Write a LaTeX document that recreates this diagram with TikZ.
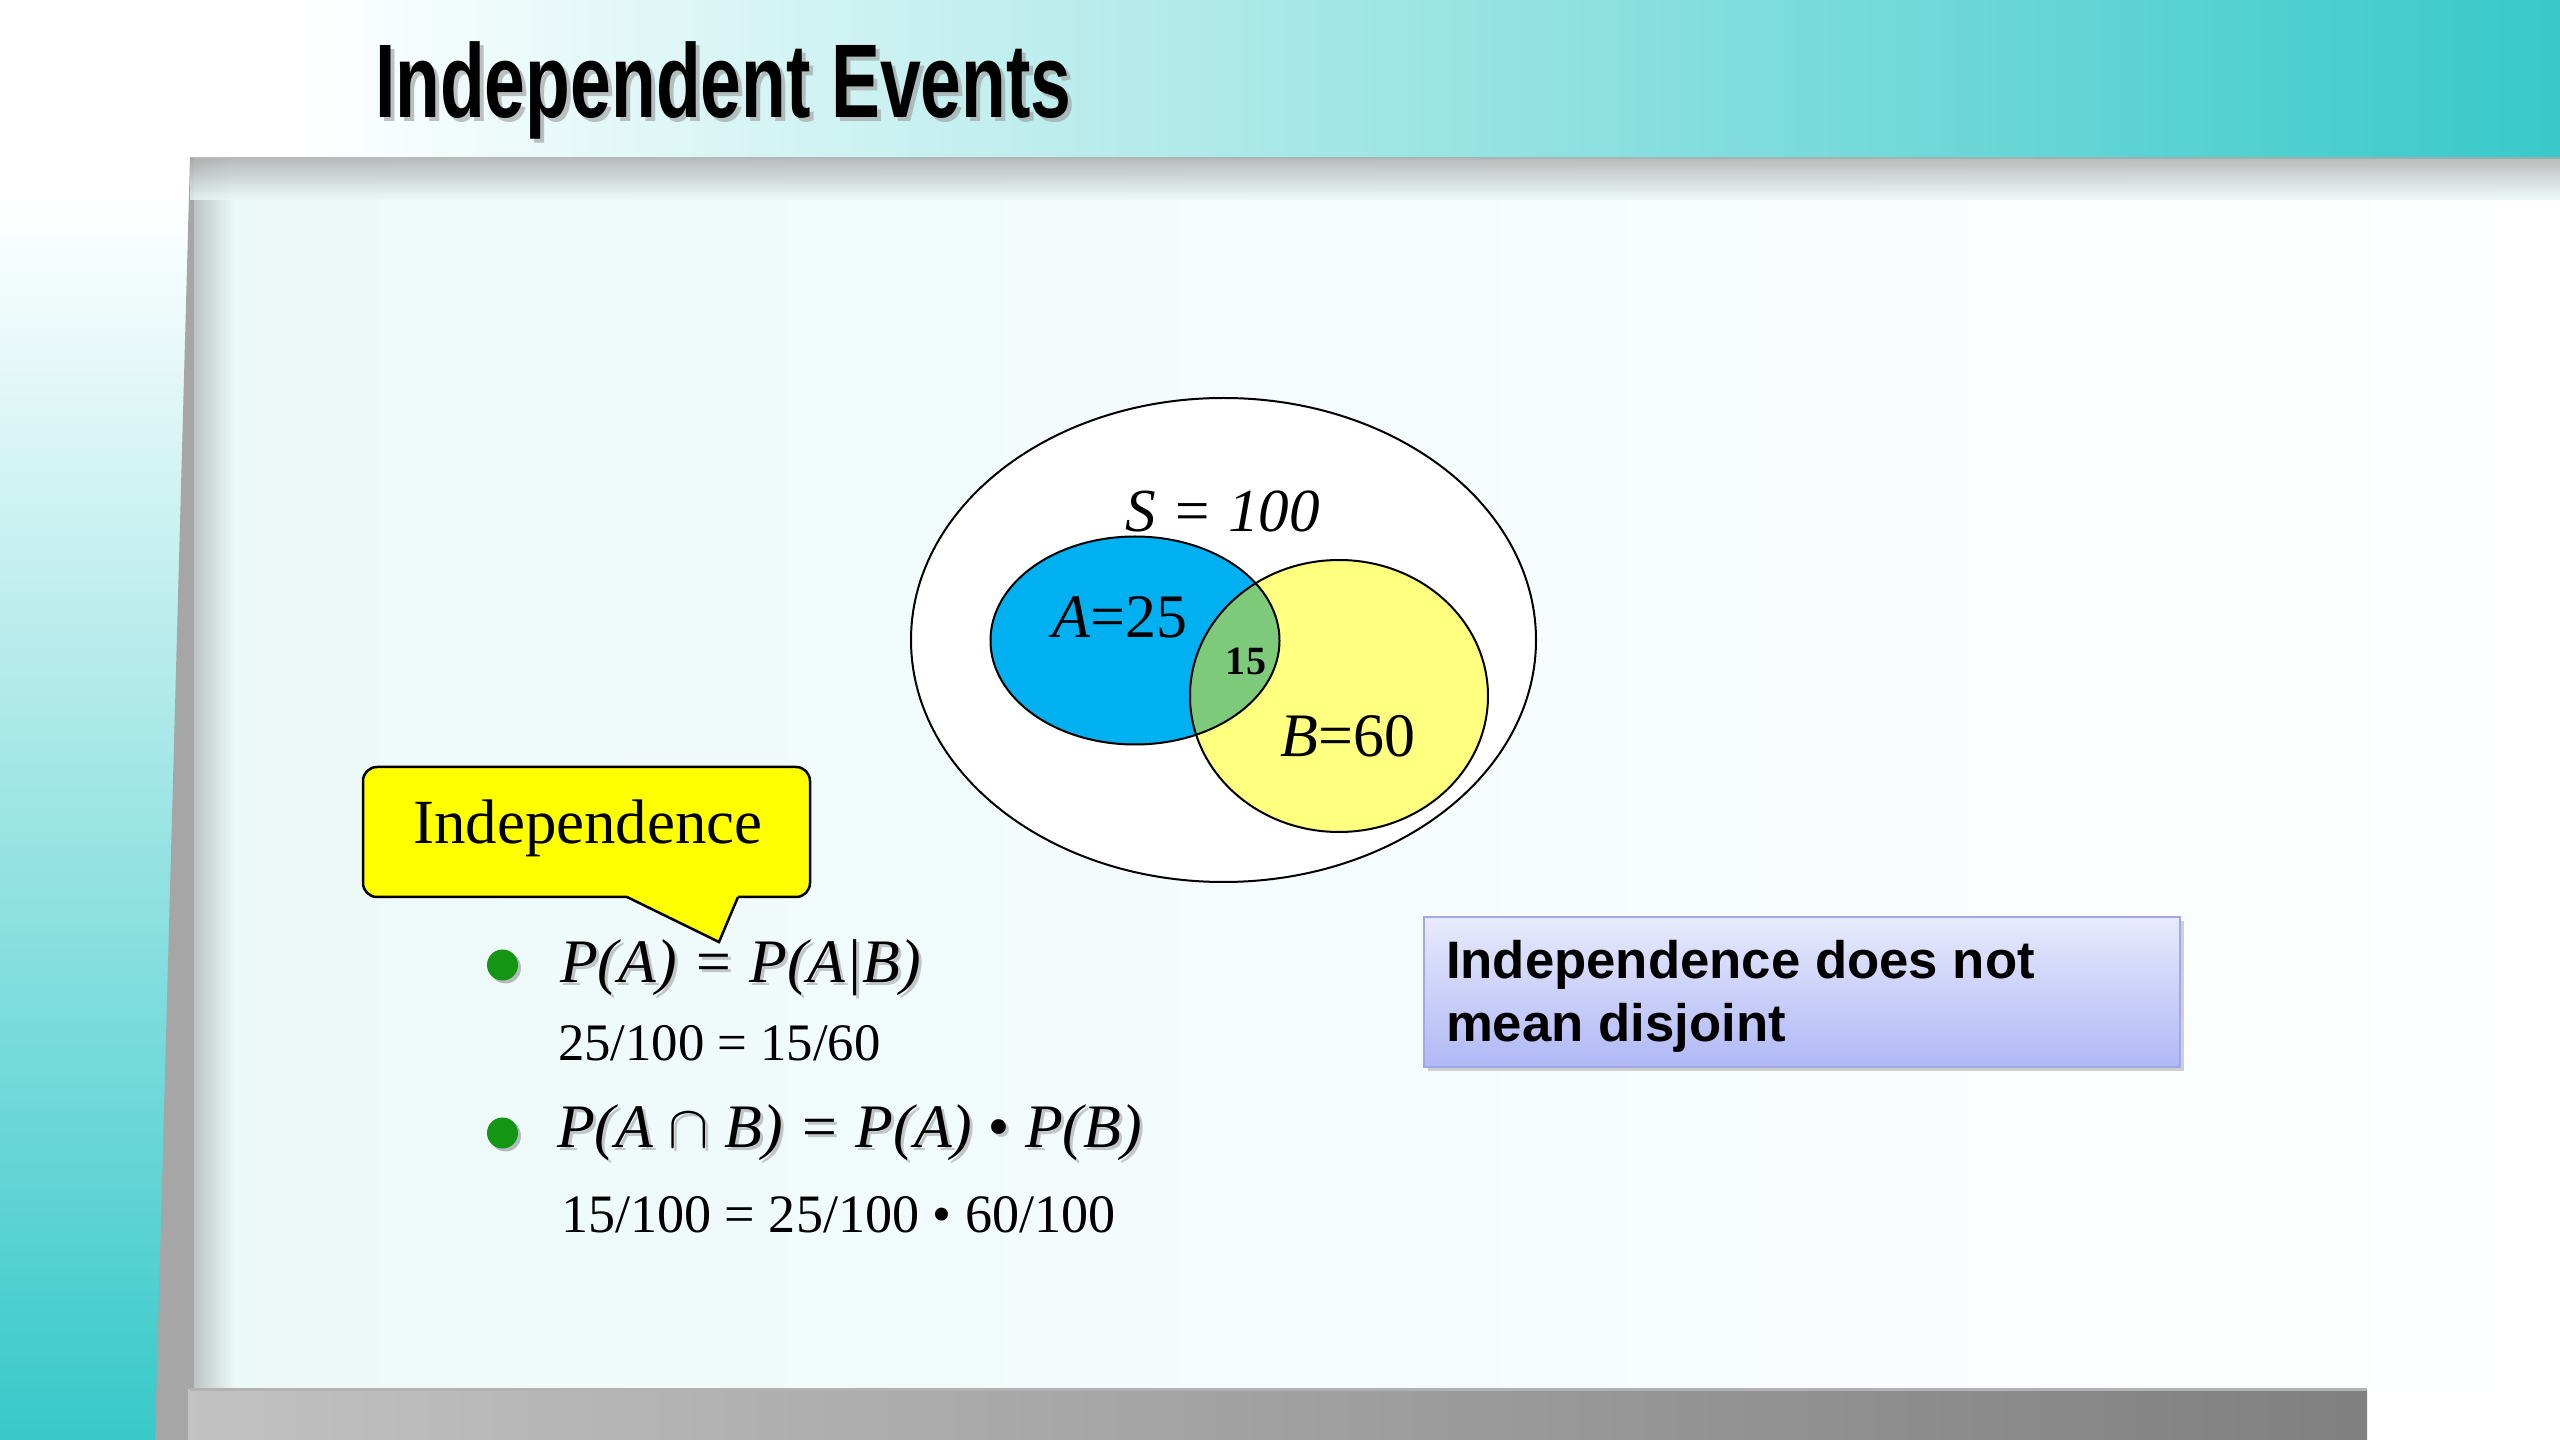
\documentclass[tikz,border=0pt]{standalone}
\usepackage{fontspec}
\usepackage{graphicx}
\setmainfont{Liberation Serif}
\setsansfont{Liberation Sans}
\definecolor{teal1}{RGB}{56,201,201}
\definecolor{panel}{RGB}{236,249,249}
\definecolor{bevel}{RGB}{166,166,166}
\definecolor{bevlight}{RGB}{190,196,196}
\definecolor{vblue}{RGB}{0,176,240}
\definecolor{vyellow}{RGB}{255,255,128}
\definecolor{vgreen}{RGB}{125,203,122}
\definecolor{cyellow}{RGB}{255,255,0}
\definecolor{bgreen}{RGB}{20,150,20}
\definecolor{boxtop}{RGB}{232,234,252}
\definecolor{boxbot}{RGB}{176,184,246}
\definecolor{boxline}{RGB}{160,168,232}
\begin{document}
\begin{tikzpicture}[x=0.1mm,y=-0.1mm,
  lbl/.style={inner sep=0pt,outer sep=0pt},
  formula/.style={lbl,anchor=base west,font=\fontsize{17.6}{20}\selectfont\itshape},
  fshadow/.style={formula,text=black!60,opacity=0.35},
  numline/.style={lbl,anchor=base west,font=\fontsize{15}{17}\selectfont},
  vennlbl/.style={lbl,anchor=base,font=\fontsize{17.6}{20}\selectfont},
  boxtext/.style={lbl,anchor=base west,font=\fontsize{15}{18}\selectfont\sffamily\bfseries},
  vline/.style={draw=black,line width=0.2mm},
  bulletdot/.style={fill=bgreen},
  bulletshadow/.style={fill=black,opacity=0.25}]
\useasboundingbox (0,0) rectangle (2560,1440);
% ---------- background ----------
\fill[white] (0,0) rectangle (2560,1440);
\shade[left color=white,right color=teal1] (300,0) rectangle (2560,161);
\shade[top color=white,bottom color=teal1] (0,200) rectangle (200,1440);
\shade[left color=panel,right color=white] (193,160) rectangle (2560,1389);
\fill[bevel] (190,158) -- (194,158) -- (194,1440) -- (155,1440) -- cycle;
\shade[left color=bevlight,right color=panel] (194,160) rectangle (234,1389);
\shade[top color=black!33,bottom color=panel,opacity=0.8] (190,158) rectangle (2560,200);
\shade[left color=black!24,right color=black!50] (188,1389) rectangle (2367,1440);
\draw[black!30,line width=0.3mm] (190,1389) -- (2367,1389);
% ---------- title ----------
\node[lbl,anchor=base west,text=black!40,opacity=0.6,font=\fontsize{29.8}{32}\selectfont\sffamily\bfseries]
  (titleshadow) at (379,122) {\scalebox{0.7}[1]{Independent Events}};
\node[lbl,anchor=base west,font=\fontsize{29.8}{32}\selectfont\sffamily\bfseries]
  (title) at (375,118) {\scalebox{0.7}[1]{Independent Events}};
% ---------- Venn diagram ----------
\filldraw[fill=white,vline] (1223.5,640) ellipse [x radius=31.25mm,y radius=24.2mm];
\fill[vblue] (1135,640.5) ellipse [x radius=14.45mm,y radius=10.4mm];
\fill[vyellow] (1339,696) ellipse [x radius=14.9mm,y radius=13.6mm];
\begin{scope}
  \clip (1135,640.5) ellipse [x radius=14.45mm,y radius=10.4mm];
  \fill[vgreen] (1339,696) ellipse [x radius=14.9mm,y radius=13.6mm];
\end{scope}
\draw[vline] (1135,640.5) ellipse [x radius=14.45mm,y radius=10.4mm];
\draw[vline] (1339,696) ellipse [x radius=14.9mm,y radius=13.6mm];
\node[vennlbl,font=\fontsize{17.4}{20}\selectfont\itshape] (S) at (1223,532) {S = 100};
\node[vennlbl] (A) at (1120,638) {\textit{A}=25};
\node[vennlbl,font=\fontsize{11.4}{13}\selectfont\bfseries] (AB) at (1246,675) {15};
\node[vennlbl] (B) at (1348,757) {\textit{B}=60};
% ---------- callout ----------
\draw[fill=cyellow,line width=0.25mm,rounded corners=1.4mm] (363,767) rectangle (810,897);
\fill[cyellow] (627,897) -- (719,942) -- (738,897) -- (738,893) -- (627,893) -- cycle;
\draw[line width=0.25mm,line join=miter] (627,897) -- (719,942) -- (738,897);
\node[lbl,anchor=base,font=\fontsize{17.9}{20}\selectfont] (callout) at (588,844) {Independence};
% ---------- bullets and formulas ----------
\fill[bulletshadow] (505.5,968) circle [radius=1.55mm];
\fill[bulletdot] (502.5,965) circle [radius=1.55mm];
\fill[bulletshadow] (505.5,1136) circle [radius=1.55mm];
\fill[bulletdot] (502.5,1133) circle [radius=1.55mm];
\node[fshadow] (f1s) at (563,986) {P(A) = P(A|B)};
\node[formula] (f1) at (560,983) {P(A) = P(A|B)};
\node[numline] (n1) at (558,1060) {25/100 = 15/60};
\node[fshadow] (f2s) at (560,1151) {P(A $\cap$ B) = P(A) • P(B)};
\node[formula] (f2) at (557,1148) {P(A $\cap$ B) = P(A) • P(B)};
\node[numline,font=\fontsize{15.4}{17}\selectfont] (n2) at (561,1232) {15/100 = 25/100 • 60/100};
% ---------- blue note box ----------
\fill[black!40,opacity=0.45] (1428,921) rectangle (2184,1071);
\shade[top color=boxtop,bottom color=boxbot] (1424,917) rectangle (2180,1067);
\draw[boxline,line width=0.15mm] (1424,917) rectangle (2180,1067);
\node[boxtext] (note1) at (1446,979) {Independence does not};
\node[boxtext] (note2) at (1446,1042) {mean disjoint};
\end{tikzpicture}
\end{document}
